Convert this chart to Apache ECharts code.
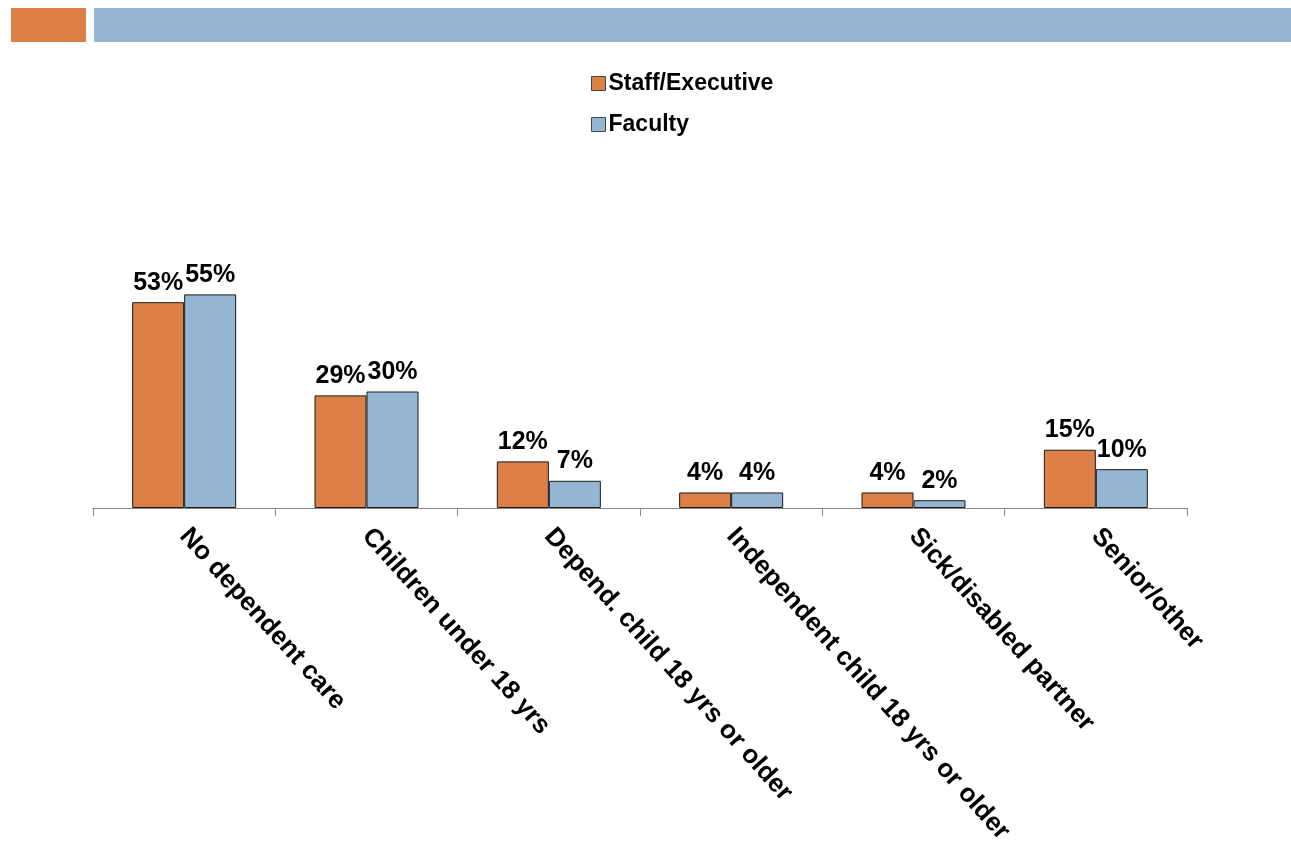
<!DOCTYPE html>
<html>
<head>
<meta charset="utf-8">
<title>Dependent care responsibilities</title>
<script src="https://cdn.jsdelivr.net/npm/echarts@6/dist/echarts.min.js"></script>
<style>
  html, body { margin: 0; padding: 0; background: #ffffff; }
  #chart { width: 1291px; height: 845px; }
</style>
</head>
<body>
<div id="chart"></div>
<script>
// Care categories along the x axis
var categories = [
  'No dependent care',
  'Children under 18 yrs',
  'Depend. child 18 yrs or older',
  'Independent child 18 yrs or older',
  'Sick/disabled partner',
  'Senior/other'
];

// Percent of respondents in each group
var staffExecutive = [53, 29, 12, 4, 4, 15];
var faculty = [55, 30, 7, 4, 2, 10];

var ORANGE = '#DD8047';
var BLUE = '#94B6D2';
var FONT = '"Liberation Sans", Arial, sans-serif';

var chart = echarts.init(document.getElementById('chart'), null, { renderer: 'canvas' });

function barSeries(name, data, color) {
  return {
    name: name,
    type: 'bar',
    data: data,
    barWidth: 52,
    barGap: '0%',
    itemStyle: { color: color, borderColor: '#1a1a1a', borderWidth: 1 },
    label: {
      show: true,
      position: 'top',
      distance: 7,
      formatter: '{c}%',
      color: '#000',
      fontFamily: FONT,
      fontWeight: 'bold',
      fontSize: 25
    },
    emphasis: { disabled: true },
    animation: false
  };
}

chart.setOption({
  animation: false,
  textStyle: { fontFamily: FONT },
  graphic: [
    { type: 'rect', shape: { x: 11, y: 8, width: 75, height: 34 }, style: { fill: ORANGE } },
    { type: 'rect', shape: { x: 94, y: 8, width: 1197, height: 34 }, style: { fill: BLUE } }
  ],
  legend: {
    orient: 'vertical',
    left: 586,
    top: 67,
    itemWidth: 14,
    itemHeight: 14,
    itemGap: 18,
    icon: 'rect',
    itemStyle: { borderColor: '#444', borderWidth: 1 },
    textStyle: { color: '#000', fontFamily: FONT, fontWeight: 'bold', fontSize: 23, padding: [0, 0, 0, -2] },
    data: ['Staff/Executive', 'Faculty']
  },
  grid: { left: 93, right: 104, top: 275, bottom: 337, containLabel: false, outerBoundsMode: 'none' },
  xAxis: {
    type: 'category',
    data: categories,
    axisLine: { lineStyle: { color: '#868686', width: 1 } },
    axisTick: { show: true, length: 8, lineStyle: { color: '#868686' } },
    axisLabel: {
      interval: 0,
      rotate: -48,
      margin: 24,
      color: '#000',
      fontFamily: FONT,
      fontWeight: 'bold',
      fontSize: 26
    }
  },
  yAxis: {
    type: 'value',
    min: 0,
    max: 60,
    show: false,
    splitLine: { show: false }
  },
  series: [
    barSeries('Staff/Executive', staffExecutive, ORANGE),
    barSeries('Faculty', faculty, BLUE)
  ]
});
</script>
</body>
</html>
